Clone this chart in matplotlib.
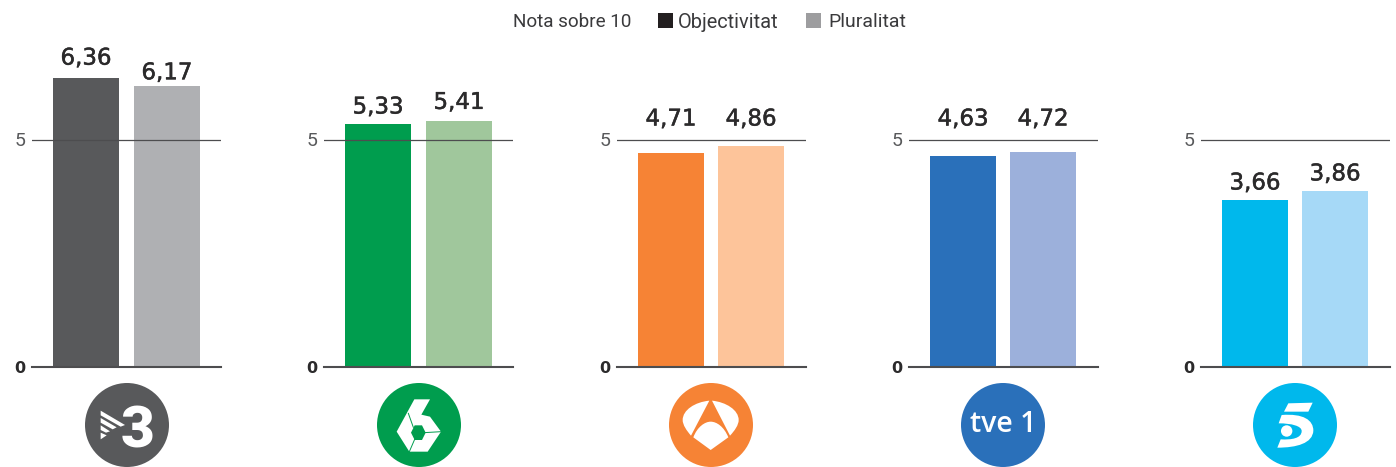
import matplotlib
matplotlib.use("Agg")
import matplotlib.pyplot as plt
import matplotlib.patheffects as pe
from matplotlib.patches import Circle, Polygon, PathPatch, Rectangle
from matplotlib.path import Path

W, H = 1396, 467
channels = ["TV3", "La Sexta", "Antena 3", "TVE 1", "Telecinco"]
objectivitat = [6.36, 5.33, 4.71, 4.63, 3.66]
pluralitat = [6.17, 5.41, 4.86, 4.72, 3.86]
colors_obj = ["#58595B", "#009D4E", "#F68335", "#2A70BA", "#00B8EC"]
colors_plu = ["#AFB0B3", "#A0C79C", "#FDC49A", "#9CB0DB", "#A6D9F7"]
panel_left = [32, 324, 617, 909, 1201]
bar_step = [81, 81, 80, 80, 80]
logo_x = [127, 419, 711, 1003, 1295]
label_gap_px = [(13, 7), (11, 12), (14, 14), (14, 14), (11, 11)]

fig = plt.figure(figsize=(W / 100, H / 100), dpi=100, facecolor="white")
plt.rcParams["font.family"] = ["Roboto", "DejaVu Sans"]

bg = fig.add_axes([0, 0, 1, 1])
bg.set_xlim(0, W)
bg.set_ylim(H, 0)
bg.axis("off")

TOP, BASE = 40, 367
PX_PER_UNIT = 45.5
LABEL = "#2b2a2b"
for i, ch in enumerate(channels):
    ax = fig.add_axes([panel_left[i] / W, 1 - BASE / H, 189 / W, (BASE - TOP) / H], facecolor="none")
    step = bar_step[i]
    ax.set_xlim(-54 / step, (189 - 54) / step)
    ax.set_ylim(0, (BASE - TOP) / PX_PER_UNIT)
    vals = [objectivitat[i], pluralitat[i]]
    bars = ax.bar([0, 1], vals, width=66 / step, color=[colors_obj[i], colors_plu[i]], zorder=2)
    ax.axhline(5, color="#4d4d4f", lw=0.9, zorder=3)
    for b, v, gap in zip(bars, vals, label_gap_px[i]):
        # labels that would collide with the reference line sit just above it
        anchor = 5 if 4.2 < v < 5 else v
        ax.annotate(f"{v:.2f}".replace(".", ","), (b.get_x() + b.get_width() / 2, anchor),
                    xytext=(0, gap * 0.72), textcoords="offset points", ha="center", va="baseline",
                    fontsize=16.5, color=LABEL, family="DejaVu Sans", zorder=5,
                    path_effects=[pe.withStroke(linewidth=0.35, foreground=LABEL)])
    for s in ["top", "left", "right"]:
        ax.spines[s].set_visible(False)
    ax.spines["bottom"].set_color("#4d4d4f")
    ax.spines["bottom"].set_linewidth(1.5)
    ax.set_xticks([])
    ax.set_yticks([0, 5])
    ax.set_yticklabels(["0", "5"])
    ax.tick_params(axis="y", length=0, pad=5, labelsize=14, labelcolor="#3a3a3c")
    lab0, lab5 = ax.get_yticklabels()
    lab0.set_fontweight("bold")
    lab0.set_family("DejaVu Sans")
    lab0.set_fontsize(11.5)
    lab0.set_color(LABEL)
    lab5.set_color("#58595B")


def z(pts, ox, oy):
    return [(ox + x / 3, oy + y / 3) for x, y in pts]


cy, r = 425, 42
for x, c in zip(logo_x, colors_obj):
    bg.add_patch(Circle((x, cy), r, fc=c, ec="none", zorder=1))


def white_poly(pts, color="white", z_=2):
    bg.add_patch(Polygon(pts, closed=True, fc=color, ec="none", zorder=z_))


def curve(pts, codes):
    bg.add_patch(PathPatch(Path(pts, codes), fc="white", ec="none", zorder=2))


M, L, C, E = Path.MOVETO, Path.LINETO, Path.CURVE4, Path.CLOSEPOLY

# TV3
for a, b, c_, d in [((302, 212), (375, 255), (362, 260), (302, 226)),
                    ((302, 234), (350, 262), (338, 268), (302, 248)),
                    ((302, 256), (330, 274), (318, 278), (302, 270))]:
    white_poly(z([a, b, c_, d], 0, 340))
white_poly(z([(302, 278), (320, 286), (302, 298)], 0, 340))
bg.text(137.5, 425.5, "3", ha="center", va="center_baseline", fontsize=42, fontweight="black",
        color="white", zorder=2, family="Roboto")

# La Sexta
white_poly(z([(1243, 178), (1290, 178), (1264, 224), (1290, 230), (1323, 275), (1283, 335),
              (1228, 335), (1190, 275)], 0, 340))
white_poly(z([(1277, 278), (1266, 256), (1244, 256), (1233, 278), (1244, 300), (1266, 300)], 0, 340), colors_obj[1], 3)
for a, b in [((1240, 262), (1225, 220)), ((1272, 278), (1323, 275)), ((1244, 298), (1228, 335))]:
    p, q = z([a, b], 0, 340)
    bg.plot([p[0], q[0]], [p[1], q[1]], color=colors_obj[1], lw=0.7, zorder=3)

# Antena 3
curve(z([(208, 62), (165, 66), (128, 90), (128, 120), (128, 135), (140, 152), (153, 167), (208, 62), (208, 62)], 640, 380),
      [M, C, C, C, C, C, C, L, E])
curve(z([(216, 62), (258, 66), (296, 90), (296, 120), (296, 135), (284, 152), (270, 167), (216, 62), (216, 62)], 640, 380),
      [M, C, C, C, C, C, C, L, E])
curve(z([(160, 172), (172, 140), (195, 125), (212, 125), (230, 125), (252, 140), (265, 172), (212, 210), (160, 172)], 640, 380),
      [M, C, C, C, C, C, C, L, E])

# TVE 1
bg.text(1003, 424, "tve 1", ha="center", va="center", fontsize=20.5, fontweight="semibold",
        color="white", zorder=2, family="Open Sans")

# Telecinco
white_poly(z([(325, 130), (398, 128), (385, 155), (312, 155)], 1180, 360))
curve(z([(305, 165), (370, 160), (400, 180), (400, 212), (398, 250), (350, 263), (292, 263),
         (302, 238), (335, 240), (365, 235), (365, 213), (365, 198), (335, 190), (296, 190),
         (305, 165)], 1180, 360),
      [M, C, C, C, C, C, C, L, C, C, C, C, C, C, E])
bg.add_patch(Circle((1180 + 320 / 3, 360 + 213 / 3), 5.7, fc="white", ec="none", zorder=2))

# Legend
legend_labels = ["Objectivitat", "Pluralitat"]
legend_colors = ["#231F20", "#9D9D9F"]
legend_sq = [658, 806]
legend_tx = [678, 828]
legend_fs = [14.4, 14.0]
bg.text(513, 22, "Nota sobre 10", ha="left", va="center", fontsize=13.6, color="#3a3a3c")
for sq, tx, lab, col, fs in zip(legend_sq, legend_tx, legend_labels, legend_colors, legend_fs):
    bg.add_patch(Rectangle((sq, 13), 15, 15, fc=col, ec="none"))
    bg.text(tx, 22, lab, ha="left", va="center", fontsize=fs, color="#3a3a3c")

fig.savefig("out.png", dpi=100, facecolor="white")
